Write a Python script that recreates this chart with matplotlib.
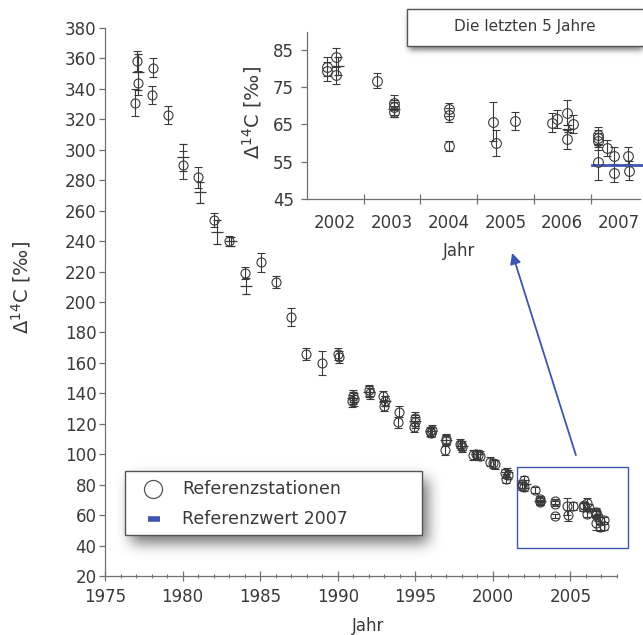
import numpy as np
import matplotlib.pyplot as plt
from matplotlib.lines import Line2D
from matplotlib.patches import Rectangle

# Referenzstationen 1977-2001: Jahr, Delta14C [permille], Fehler
hist_jahr = [1976.93, 1977.04, 1977.10, 1978.04, 1978.10, 1979.03, 1980.00, 1981.02,
             1982.03, 1983.00, 1984.05, 1985.03, 1986.00, 1987.00, 1987.97, 1988.98,
             1990.00, 1990.05, 1991.00, 1990.95, 1991.05, 1992.00, 1992.05, 1992.95,
             1993.00, 1993.05, 1993.95, 1993.90, 1994.95, 1994.90, 1995.00, 1995.95,
             1996.00, 1996.05, 1996.95, 1996.90, 1997.00, 1997.90, 1998.00, 1997.95,
             1998.70, 1998.90, 1999.05, 1999.20, 1999.80, 2000.00, 2000.15, 2000.80,
             2000.85, 2000.95]
hist_d14c = [331, 358, 344, 336, 354, 323, 290, 282,
             254, 240, 219, 226, 213, 190, 166, 160,
             166, 164, 138, 135, 136, 142, 140, 138,
             132, 135, 128, 121, 124, 118, 121, 115,
             114, 116, 110, 102.7, 109, 107, 104.5, 106,
             99.5, 100, 99.5, 99, 95, 94, 93.5, 87.5,
             84, 86.5]
hist_err = [9, 7, 8, 6, 6, 6, 9, 7,
            4.5, 3.5, 4, 6, 4, 6, 4, 8,
            4, 4, 4, 4, 4, 3.5, 3.5, 3.5,
            3.5, 3.5, 3.5, 3.5, 3.5, 3.5, 3.5, 3,
            3, 3, 3, 3, 3, 3, 3, 3,
            3, 3, 3, 3, 3, 3, 3, 3,
            3, 3]

# Einzelwerte ohne Kreismarker
kreuz_jahr = [1977.10, 1980.05, 1981.10, 1982.20, 1983.10, 1984.10, 1991.00, 1992.00,
              1993.05, 1995.00, 1996.00, 1997.00, 1998.00, 1999.00, 2000.90,
              2002.05, 2003.04, 2006.10]
kreuz_d14c = [351, 295, 272, 246, 240, 210.5, 137, 141, 135, 122, 115, 109.5, 105.5,
              100, 88, 80.6, 69.0, 63.8]
kreuz_err = [12, 9, 7, 8, 3, 5, 4, 3.5, 3.5, 3.5, 3, 3, 3, 3, 3, 2.5, 2.0, 1.0]

# Die letzten 5 Jahre (2002-2007)
neu_jahr = [2001.86, 2001.86, 2002.02, 2002.02, 2002.73, 2003.04, 2003.04, 2003.04,
            2004.00, 2004.00, 2004.00, 2004.78, 2004.83, 2005.17, 2005.81, 2005.90,
            2006.09, 2006.09, 2006.19, 2006.63, 2006.63, 2006.63, 2006.63, 2006.79,
            2006.92, 2006.92, 2007.15, 2007.17]
neu_d14c = [80.4, 79.2, 82.9, 78.2, 76.6, 70.8, 69.5, 68.4,
            69.0, 67.5, 59.2, 65.7, 59.9, 65.9, 65.4, 66.4,
            68.1, 61.0, 65.0, 62.1, 61.3, 60.4, 54.8, 58.6,
            56.4, 51.9, 56.6, 52.6]
neu_err = [2.5, 2.5, 2.5, 2.5, 2.0, 2.0, 2.0, 1.5,
           1.8, 1.8, 1.4, 5.3, 3.5, 2.4, 2.5, 2.3,
           3.4, 2.5, 2.4, 2.3, 2.3, 2.3, 4.6, 2.2,
           2.4, 2.4, 2.2, 2.6]

ref_2007 = 54.0

W, H = 643, 635
TXT = '#3a3a3a'
ACHSE = '#707070'
PUNKT = '#3a3a3a'
BLAU = '#3d55b0'


def fx(px):
    return px / W


def fy(py):
    return 1 - py / H


plt.rcParams['font.family'] = 'DejaVu Sans'
fig = plt.figure(figsize=(W / 100, H / 100), dpi=100)
fig.patch.set_facecolor('white')

# Hauptdiagramm
ax = fig.add_axes([fx(105), fy(576), 512 / W, 548 / H])
ax.set_zorder(0)
alle_jahr = hist_jahr + neu_jahr
alle_d14c = hist_d14c + neu_d14c
alle_err = hist_err + neu_err
ax.errorbar(alle_jahr, alle_d14c, yerr=alle_err, fmt='o', ms=6.5, mfc='none',
            mec=PUNKT, mew=0.8, ecolor=PUNKT, elinewidth=0.8, capsize=2.9, capthick=0.8)
ax.errorbar(kreuz_jahr, kreuz_d14c, yerr=kreuz_err, fmt='_', ms=8, mew=0.9,
            color=PUNKT, elinewidth=0.8, capsize=2.9, capthick=0.8)

ax.set_xlim(1975, 2008)
ax.set_ylim(20, 380)
ax.set_xticks(range(1975, 2006, 5))
ax.set_xticks(range(1975, 2009), minor=True)
ax.set_yticks(range(20, 381, 20))
for s in ['top', 'right']:
    ax.spines[s].set_visible(False)
for s in ['left', 'bottom']:
    ax.spines[s].set_color(ACHSE)
    ax.spines[s].set_linewidth(0.9)
ax.tick_params(axis='x', which='major', direction='inout', length=7, width=0.9,
               color=ACHSE, labelsize=12, labelcolor=TXT, pad=5)
ax.tick_params(axis='x', which='minor', direction='inout', length=3, width=0.8, color=ACHSE)
ax.tick_params(axis='y', which='major', direction='out', length=4, width=0.9,
               color=ACHSE, labelsize=12, labelcolor=TXT, pad=2)
ax.set_xlabel('Jahr', fontsize=12, color=TXT)
ax.xaxis.set_label_coords(0.514, -0.075)
ax.set_ylabel('Δ$^{14}$C [‰]', fontsize=14, color=TXT)
ax.yaxis.set_label_coords(-0.14, 0.526)

# Ausschnitt 2002-2007 markieren
ax.add_patch(Rectangle((2001.56, 38.4), 7.14, 53.2, fill=False, ec=BLAU, lw=1,
                       clip_on=False))

# Detailansicht
ins = fig.add_axes([fx(307), fy(199), 333 / W, 167 / H])
ins.set_zorder(1)
ins.set_facecolor('none')
ins.errorbar(neu_jahr, neu_d14c, yerr=neu_err, fmt='o', ms=7, mfc='none',
             mec=PUNKT, mew=0.8, ecolor=PUNKT, elinewidth=0.8, capsize=3, capthick=0.8)
ins.errorbar(kreuz_jahr[-3:], kreuz_d14c[-3:], yerr=kreuz_err[-3:], fmt='_', ms=9,
             mew=0.9, color=PUNKT, elinewidth=0.8, capsize=3, capthick=0.8)
ins.plot([2006.52, 2007.5], [ref_2007, ref_2007], color=BLAU, lw=2, clip_on=False)
ins.set_xlim(2001.5, 2007.37)
ins.set_ylim(45, 89.7)
ins.set_yticks(range(45, 86, 10))
ins.set_xticks(np.arange(2002.5, 2007, 1.0))
ins.set_xticklabels([])
ins.set_xticks(range(2002, 2008), minor=True)
ins.set_xticklabels([str(j) for j in range(2002, 2008)], minor=True)
for s in ['top', 'right']:
    ins.spines[s].set_visible(False)
for s in ['left', 'bottom']:
    ins.spines[s].set_color(ACHSE)
    ins.spines[s].set_linewidth(0.9)
ins.tick_params(axis='x', which='major', direction='inout', length=7, width=0.9, color=ACHSE)
ins.tick_params(axis='x', which='minor', length=0, labelsize=12, labelcolor=TXT, pad=11)
ins.tick_params(axis='y', direction='out', length=4.5, width=0.9, color=ACHSE,
                labelsize=12, labelcolor=TXT, pad=5)
ins.set_xlabel('Jahr', fontsize=12, color=TXT)
ins.xaxis.set_label_coords(0.456, -0.255)
ins.set_ylabel('Δ$^{14}$C [‰]', fontsize=14, color=TXT)
ins.yaxis.set_label_coords(-0.13, 0.515)

# Pfeil vom Ausschnitt zur Detailansicht
ax.annotate('', xy=(0.616, -0.323), xycoords=ins.transAxes,
            xytext=(2005.35, 99.4), textcoords='data',
            arrowprops=dict(arrowstyle='-|>', color=BLAU, lw=1.3, mutation_scale=16,
                            shrinkA=0, shrinkB=0),
            annotation_clip=False)


# weiche Schatten unter den Kästen
def unschaerfe(bild, sigma):
    r = int(3 * sigma)
    k = np.exp(-0.5 * (np.arange(-r, r + 1) / sigma) ** 2)
    k /= k.sum()
    bild = np.apply_along_axis(lambda z: np.convolve(z, k, mode='same'), 0, bild)
    return np.apply_along_axis(lambda z: np.convolve(z, k, mode='same'), 1, bild)


kaesten = [(125, 471, 422, 535, 6, 8, 7, 0.62),
           (407, 9, 660, 46, 2, 4, 3, 0.6)]
alpha = np.zeros((H, W))
for x0, y0, x1, y1, dx, dy, sig, st in kaesten:
    m = np.zeros((H, W))
    m[y0 + dy:min(y1 + dy, H), x0 + dx:min(x1 + dx, W)] = 1
    alpha = np.maximum(alpha, unschaerfe(m, sig) * st)
schatten = np.zeros((H, W, 4))
schatten[..., :3] = 0.12
schatten[..., 3] = alpha
fig.figimage(schatten, xo=0, yo=0, origin='upper', zorder=2)

for x0, y0, x1, y1, *_ in kaesten:
    fig.add_artist(Rectangle((fx(x0), fy(y1)), (x1 - x0) / W, (y1 - y0) / H,
                             transform=fig.transFigure, fc='white', ec='#555555',
                             lw=1, zorder=3))

fig.text(fx(525), fy(27), 'Die letzten 5 Jahre', fontsize=11, color=TXT,
         ha='center', va='center', zorder=4)

# Legende
fig.add_artist(Line2D([fx(153)], [fy(489)], marker='o', ms=13, mfc='white',
                      mec='#555555', mew=0.9, transform=fig.transFigure, zorder=4))
fig.add_artist(Line2D([fx(148), fx(160)], [fy(519), fy(519)], color=BLAU, lw=4,
                      solid_capstyle='butt', transform=fig.transFigure, zorder=4))
fig.text(fx(182), fy(489), 'Referenzstationen', fontsize=12.5, color=TXT,
         va='center', zorder=4)
fig.text(fx(182), fy(519), 'Referenzwert 2007', fontsize=12.5, color=TXT,
         va='center', zorder=4)

fig.savefig('out.png', dpi=100)
